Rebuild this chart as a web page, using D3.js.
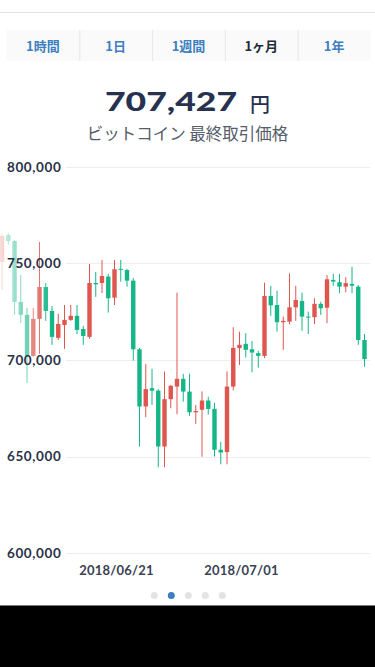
<!DOCTYPE html>
<html><head><meta charset="utf-8">
<script src="https://cdn.jsdelivr.net/npm/d3@7"></script>
<style>
html,body{margin:0;padding:0;background:#fff;}
svg{display:block;}
</style></head>
<body>
<svg id="c" width="375" height="667"></svg>
<script>
// ---- data ----
const tabs = ["1時間", "1日", "1週間", "1ヶ月", "1年"];
const activeTab = "1ヶ月";
const lastPrice = "707,427";
const priceUnit = "円";
const subtitle = "ビットコイン 最終取引価格";
const times = [
"2018-06-11T21:00","2018-06-12T09:00","2018-06-12T21:00","2018-06-13T09:00","2018-06-13T21:00",
"2018-06-14T09:00","2018-06-14T21:00","2018-06-15T09:00","2018-06-15T21:00","2018-06-16T09:00",
"2018-06-16T21:00","2018-06-17T09:00","2018-06-17T21:00","2018-06-18T09:00","2018-06-18T21:00",
"2018-06-19T09:00","2018-06-19T21:00","2018-06-20T09:00","2018-06-20T21:00","2018-06-21T09:00",
"2018-06-21T21:00","2018-06-22T09:00","2018-06-22T21:00","2018-06-23T09:00","2018-06-23T21:00",
"2018-06-24T09:00","2018-06-24T21:00","2018-06-25T09:00","2018-06-25T21:00","2018-06-26T09:00",
"2018-06-26T21:00","2018-06-27T09:00","2018-06-27T21:00","2018-06-28T09:00","2018-06-28T21:00",
"2018-06-29T09:00","2018-06-29T21:00","2018-06-30T09:00","2018-06-30T21:00","2018-07-01T09:00",
"2018-07-01T21:00","2018-07-02T09:00","2018-07-02T21:00","2018-07-03T09:00","2018-07-03T21:00",
"2018-07-04T09:00","2018-07-04T21:00","2018-07-05T09:00","2018-07-05T21:00","2018-07-06T09:00",
"2018-07-06T21:00","2018-07-07T09:00","2018-07-07T21:00","2018-07-08T09:00","2018-07-08T21:00",
"2018-07-09T09:00","2018-07-09T21:00","2018-07-10T09:00","2018-07-10T21:00"];
const open = [
750800,764700,761600,730100,723400,702200,721300,737800,725400,711500,
718200,720800,722900,716100,712000,739900,739900,743200,732300,747200,
746600,741100,705600,676000,685500,684200,655300,679800,686300,690300,
683700,673000,674300,679100,674800,653600,652400,686300,706200,708400,
705600,703600,702200,733200,728500,719600,719900,727300,730600,722500,
722200,729100,727100,741500,740300,738000,739400,738000,710400];
const high = [
765200,765800,762100,744000,727000,727000,761100,739900,728000,723900,
728500,728500,728500,717700,749700,745600,751800,744600,751800,751800,
747200,742500,706300,697900,695500,685100,694100,687200,734900,692900,
692900,676800,683800,681000,677900,657700,694200,717000,714700,713900,
709900,704800,740100,738400,735900,722500,744900,738400,734900,725100,
732000,730200,744000,744600,744600,742900,748300,738900,713500];
const low = [
736300,759600,723400,719200,688200,701700,703200,720300,707900,710400,
705800,720300,713500,707900,711000,732700,734700,724600,728500,740600,
738000,699700,655300,670500,676800,644600,644600,675100,672000,678500,
671200,667000,650000,671800,650100,646100,646100,684300,697500,701400,
693700,696100,701000,722900,714700,705300,718600,720300,715100,713500,
718600,723400,719100,738400,734600,735100,734600,707900,696600];
const close = [
764200,761600,730100,723400,702200,721300,737800,725400,712000,718700,
720800,722900,715600,712500,739900,739200,743500,732000,747000,746700,
741100,705600,676000,685000,684200,655300,679800,686700,690300,683700,
673000,673700,679100,674700,653600,652200,686300,706300,707900,705300,
703900,702200,733200,728300,719600,720300,727300,731100,722500,722000,
729100,726800,741800,740600,738000,739800,738500,710400,700500];
const yTicks = [600000, 650000, 700000, 750000, 800000];
const xTicks = ["2018-06-21T00:00", "2018-07-01T00:00"];

// ---- drawing ----
const svg = d3.select("#c");
const W = 375;
const upColor = "#de564e", downColor = "#14b688";
const parse = d3.utcParse("%Y-%m-%dT%H:%M");
const dates = times.map(parse);
const candles = dates.map((d, i) => ({d, o: open[i], h: high[i], l: low[i], c: close[i]}));

svg.append("rect").attr("width", W).attr("height", 667).attr("fill", "#fff");
// top hairline
svg.append("line").attr("x1", 0).attr("x2", W).attr("y1", 12.5).attr("y2", 12.5)
  .attr("stroke", "#e2e2e2").attr("stroke-width", 1);

// tabs
const tabX = d3.scaleBand().domain(tabs).range([6.5, 370.5]);
svg.append("rect").attr("x", 6.5).attr("y", 30).attr("width", 364).attr("height", 31).attr("fill", "#fafafa");
const tg = svg.append("g");
tabs.forEach((t, i) => {
  if (i > 0) tg.append("line").attr("x1", tabX(t) + 0.5).attr("x2", tabX(t) + 0.5)
    .attr("y1", 30).attr("y2", 61).attr("stroke", "#e6e6e6");
  tg.append("text").attr("x", tabX(t) + tabX.bandwidth() / 2).attr("y", 51)
    .attr("text-anchor", "middle")
    .attr("font-family", "'Noto Sans CJK JP', sans-serif")
    .attr("font-size", 13).attr("font-weight", t === activeTab ? 700 : 600)
    .attr("fill", t === activeTab ? "#222a38" : "#3d7fc0").text(t);
});

// title
svg.append("text").attr("x", 105).attr("y", 111)
  .attr("fill", "#263250")
  .attr("font-family", "Lato, sans-serif").attr("font-weight", 900)
  .attr("font-size", 26).attr("textLength", 132).attr("lengthAdjust", "spacingAndGlyphs")
  .text(lastPrice);
svg.append("text").attr("x", 250).attr("y", 112).attr("fill", "#263250")
  .attr("font-family", "'Noto Sans CJK JP', sans-serif")
  .attr("font-weight", 500).attr("font-size", 20).text(priceUnit);
svg.append("text").attr("x", 187.5).attr("y", 140).attr("text-anchor", "middle")
  .attr("font-family", "'Noto Sans CJK JP', sans-serif").attr("font-size", 16.5)
  .attr("fill", "#555c6a").text(subtitle);

// scales
const x = d3.scaleUtc().domain([dates[0], dates[dates.length - 1]]).range([2, 364.5]);
const y = d3.scaleLinear().domain([600000, 800000]).range([553.4, 166.8]);

// grid
svg.append("g").selectAll("line").data(yTicks).join("line")
  .attr("x1", 66).attr("x2", 370)
  .attr("y1", d => Math.round(y(d)) + 0.5).attr("y2", d => Math.round(y(d)) + 0.5)
  .attr("stroke", "#eeeeee");

// candles
const cg = svg.append("g");
const bw = 4.4;
cg.selectAll("line.wick").data(candles).join("line").attr("class", "wick")
  .attr("x1", d => x(d.d)).attr("x2", d => x(d.d))
  .attr("y1", d => y(d.h)).attr("y2", d => y(d.l))
  .attr("stroke", d => d.c >= d.o ? upColor : downColor).attr("stroke-width", 1);
cg.selectAll("rect.body").data(candles).join("rect").attr("class", "body")
  .attr("x", d => x(d.d) - bw / 2).attr("width", bw)
  .attr("y", d => y(Math.max(d.o, d.c)))
  .attr("height", d => Math.max(1, Math.abs(y(d.o) - y(d.c))))
  .attr("fill", d => d.c >= d.o ? upColor : downColor);

// left fade
const defs = svg.append("defs");
const grad = defs.append("linearGradient").attr("id", "fade").attr("x1", 0).attr("x2", 1).attr("y1", 0).attr("y2", 0);
grad.append("stop").attr("offset", 0).attr("stop-color", "#fff").attr("stop-opacity", 0.8);
grad.append("stop").attr("offset", 1).attr("stop-color", "#fff").attr("stop-opacity", 0);
svg.append("rect").attr("x", 0).attr("y", 160).attr("width", 52).attr("height", 400).attr("fill", "url(#fade)");

// y labels
svg.append("g").selectAll("text").data(yTicks).join("text")
  .attr("x", 7).attr("y", d => y(d)).attr("dy", "0.35em")
  .attr("font-family", "Lato, sans-serif").attr("font-weight", 700).attr("font-size", 13.5)
  .attr("letter-spacing", 0.6)
  .attr("fill", "#2a3248").text(d => d3.format(",")(d));

// x labels
const xAxis = d3.axisBottom(x).tickValues(xTicks.map(parse)).tickSize(0).tickFormat(d3.utcFormat("%Y/%m/%d"));
const xg = svg.append("g").attr("transform", "translate(0,560)").call(xAxis);
xg.select(".domain").remove();
xg.selectAll("text").attr("font-family", "Lato, sans-serif").attr("font-weight", 700)
  .attr("font-size", 13).attr("letter-spacing", 0.2).attr("fill", "#3a4254").attr("dy", "0.95em");

// page dots
const pages = [0, 1, 2, 3, 4];
const activePage = 1;
const px = d3.scalePoint().domain(pages).range([154.3, 222.3]);
svg.append("g").selectAll("circle").data(pages).join("circle")
  .attr("cx", d => px(d)).attr("cy", 595.5).attr("r", 3.5)
  .attr("fill", d => d === activePage ? "#3a7fc0" : "#e3e3e3");

// bottom black bar
svg.append("rect").attr("x", 0).attr("y", 605).attr("width", W).attr("height", 1).attr("fill", "#777");
svg.append("rect").attr("x", 0).attr("y", 606).attr("width", W).attr("height", 61).attr("fill", "#000");
</script>
</body></html>
